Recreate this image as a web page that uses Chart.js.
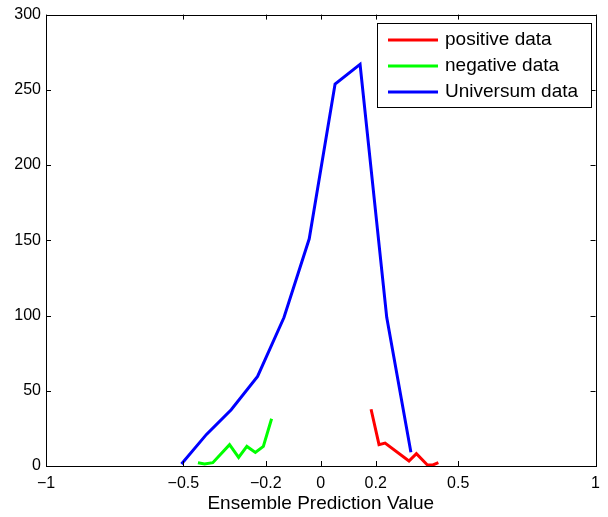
<!DOCTYPE html>
<html>
<head>
<meta charset="utf-8">
<script src="https://cdn.jsdelivr.net/npm/chart.js@4"></script>
<style>
  html, body { margin: 0; padding: 0; background: #fff; }
  canvas { display: block; }
</style>
</head>
<body>
<canvas id="histChart" width="608" height="517"></canvas>
<script>
// values
const positiveX = [0.183, 0.212, 0.234, 0.321, 0.348, 0.388, 0.408, 0.428];
const positiveY = [37.7, 14.2, 15.2, 3.3, 8.2, 0.7, 0.7, 2.2];

const negativeX = [-0.447, -0.423, -0.393, -0.332, -0.299, -0.269, -0.238, -0.209, -0.179];
const negativeY = [2.2, 1.3, 2.2, 14.2, 5.7, 13.0, 9.0, 13.0, 31.4];

const universumX = [-0.507, -0.416, -0.326, -0.230, -0.134, -0.042, 0.052, 0.143, 0.240, 0.328];
const universumY = [1.3, 21, 37.4, 59.5, 98.7, 151, 253.8, 266.9, 98.8, 9.2];

const xTicks = [-1, -0.5, -0.2, 0, 0.2, 0.5, 1];
const yTicks = [0, 50, 100, 150, 200, 250, 300];

const seriesNames = ['positive data', 'negative data', 'Universum data'];
const seriesColors = ['#ff0000', '#00ff00', '#0000ff'];

function toPoints(xs, ys) {
    return xs.map(function (x, i) { return { x: x, y: ys[i] }; });
}

const FONT = "'Liberation Sans', Arial, Helvetica, sans-serif";

// inward ticks + box round the axes, like the matlab figure
const boxPlugin = {
    id: 'boxAxes',
    afterDatasetsDraw: function (chart) {
        const { ctx, chartArea: a, scales } = chart;
        const len = 5;
        ctx.save();
        ctx.strokeStyle = '#000';
        ctx.lineWidth = 1;
        ctx.beginPath();
        xTicks.forEach(function (v) {
            const px = Math.round(scales.x.getPixelForValue(v)) + 0.5;
            ctx.moveTo(px, a.bottom);
            ctx.lineTo(px, a.bottom - len);
            ctx.moveTo(px, a.top);
            ctx.lineTo(px, a.top + len);
        });
        yTicks.forEach(function (v) {
            const py = Math.round(scales.y.getPixelForValue(v)) + 0.5;
            ctx.moveTo(a.left, py);
            ctx.lineTo(a.left + len, py);
            ctx.moveTo(a.right, py);
            ctx.lineTo(a.right - len, py);
        });
        ctx.stroke();
        ctx.strokeRect(Math.round(a.left) + 0.5, Math.round(a.top) + 0.5,
            Math.round(a.right - a.left), Math.round(a.bottom - a.top));
        ctx.restore();
    }
};

// legend box in the upper right corner
const legendPlugin = {
    id: 'boxLegend',
    afterDraw: function (chart) {
        const { ctx } = chart;
        const x0 = 377, y0 = 23, w = 214, h = 84;
        ctx.save();
        ctx.fillStyle = '#fff';
        ctx.fillRect(x0, y0, w, h);
        ctx.strokeStyle = '#000';
        ctx.lineWidth = 1;
        ctx.strokeRect(x0 + 0.5, y0 + 0.5, w, h);
        ctx.font = '19px ' + FONT;
        ctx.textBaseline = 'middle';
        ctx.fillStyle = '#000';
        chart.data.datasets.forEach(function (ds, i) {
            const y = y0 + 17 + i * 26;
            ctx.strokeStyle = ds.borderColor;
            ctx.lineWidth = 3;
            ctx.beginPath();
            ctx.moveTo(x0 + 11, y);
            ctx.lineTo(x0 + 61, y);
            ctx.stroke();
            ctx.fillText(ds.label, x0 + 68, y);
        });
        ctx.restore();
    }
};

const datasets = [
    toPoints(positiveX, positiveY),
    toPoints(negativeX, negativeY),
    toPoints(universumX, universumY)
].map(function (pts, i) {
    return {
        label: seriesNames[i],
        data: pts,
        borderColor: seriesColors[i],
        backgroundColor: seriesColors[i],
        borderWidth: 3,
        pointRadius: 0,
        showLine: true,
        tension: 0,
        fill: false
    };
});

new Chart(document.getElementById('histChart'), {
    type: 'scatter',
    data: { datasets: datasets },
    options: {
        responsive: false,
        animation: false,
        layout: { padding: { top: 7, right: 11, left: 0, bottom: 0 } },
        plugins: {
            legend: { display: false },
            tooltip: { enabled: false }
        },
        scales: {
            x: {
                type: 'linear',
                min: -1,
                max: 1,
                afterBuildTicks: function (scale) {
                    scale.ticks = xTicks.map(function (v) { return { value: v }; });
                },
                afterFit: function (scale) { scale.height = 51; },
                ticks: {
                    color: '#000',
                    font: { family: FONT, size: 16 },
                    padding: 8,
                    maxRotation: 0,
                    autoSkip: false,
                    callback: function (v) { return String(v).replace('-', '\u2212'); }
                },
                grid: { display: false, drawTicks: false },
                border: { display: false },
                title: {
                    display: true,
                    text: 'Ensemble Prediction Value',
                    color: '#000',
                    font: { family: FONT, size: 19 },
                    padding: { top: 0, bottom: 2 }
                }
            },
            y: {
                min: 0,
                max: 300,
                afterBuildTicks: function (scale) {
                    scale.ticks = yTicks.map(function (v) { return { value: v }; });
                },
                afterFit: function (scale) { scale.width = 46; },
                ticks: {
                    color: '#000',
                    font: { family: FONT, size: 16 },
                    padding: 5
                },
                grid: { display: false, drawTicks: false },
                border: { display: false }
            }
        }
    },
    plugins: [boxPlugin, legendPlugin]
});
</script>
</body>
</html>
